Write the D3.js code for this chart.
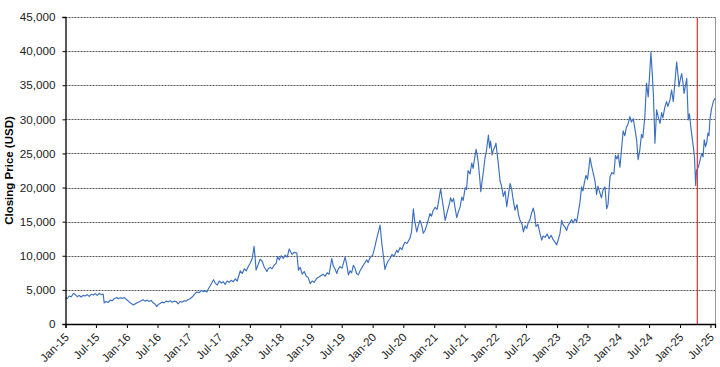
<!DOCTYPE html>
<html><head><meta charset="utf-8">
<script src="https://cdn.jsdelivr.net/npm/d3@7"></script>
<style>body{margin:0;background:#fff}svg{display:block}text{font-family:"Liberation Sans",Arial,sans-serif}</style>
</head><body><svg id="c" width="720" height="367"></svg>
<script>
const dates2015=["2015-01-01","2015-01-11","2015-01-23","2015-02-04","2015-02-18","2015-02-28","2015-03-12","2015-03-23","2015-04-04","2015-04-16","2015-04-28","2015-05-10","2015-05-22","2015-06-03","2015-06-15","2015-06-27","2015-07-08","2015-07-20","2015-08-04","2015-08-13","2015-08-19","2015-08-31","2015-09-12","2015-09-24","2015-10-05","2015-10-17","2015-11-02","2015-11-10","2015-11-22","2015-12-04","2015-12-16","2015-12-28"];
const values2015=[3900,3700,4100,4000,4500,4300,4000,4200,3950,4200,4100,4300,4050,4350,4250,4450,4200,4500,4300,4400,3100,3300,3150,3500,3400,3700,3900,3700,3850,3750,3900,3600];
const dates2016=["2016-01-08","2016-01-20","2016-02-09","2016-02-19","2016-03-02","2016-03-14","2016-03-26","2016-04-06","2016-04-18","2016-04-30","2016-05-12","2016-05-24","2016-06-05","2016-06-17","2016-06-27","2016-07-05","2016-07-16","2016-07-28","2016-08-09","2016-08-21","2016-09-02","2016-09-14","2016-09-26","2016-10-08","2016-10-20","2016-11-01","2016-11-12","2016-11-24","2016-12-06","2016-12-18","2016-12-30"];
const values2016=[3400,3100,2800,2950,3100,3250,3400,3550,3350,3500,3300,3450,3100,2900,2550,2850,3000,3200,3100,3350,3250,3400,3200,3350,3300,2950,3300,3200,3400,3350,3600];
const dates2017=["2017-01-11","2017-01-23","2017-02-04","2017-02-20","2017-03-06","2017-03-18","2017-03-30","2017-04-11","2017-04-21","2017-04-28","2017-05-10","2017-05-30","2017-06-09","2017-06-21","2017-07-03","2017-07-15","2017-07-27","2017-08-07","2017-08-19","2017-08-31","2017-09-12","2017-09-24","2017-10-06","2017-10-18","2017-11-05","2017-11-17","2017-11-29","2017-12-11","2017-12-24"];
const values2017=[3700,3950,4300,4700,4600,4900,4750,4850,4700,5100,5600,6500,6000,5700,6300,6000,6200,5800,6300,6100,6400,6200,6600,6300,7800,7400,8100,7800,8500];
const dates2018=["2018-01-03","2018-01-15","2018-01-26","2018-02-01","2018-02-07","2018-02-19","2018-03-03","2018-03-15","2018-03-27","2018-04-12","2018-04-20","2018-05-02","2018-05-13","2018-05-25","2018-06-06","2018-06-15","2018-06-24","2018-07-06","2018-07-18","2018-07-30","2018-08-11","2018-08-23","2018-08-29","2018-09-09","2018-09-21","2018-10-07","2018-10-17","2018-10-27","2018-11-08","2018-11-20","2018-12-02","2018-12-14","2018-12-26"];
const values2018=[8900,9600,11400,9800,7900,8700,9500,9200,8400,7700,8100,8300,8100,8600,8900,9900,9400,10000,9600,10100,9800,11000,10700,10200,10500,10400,7900,8300,7300,7700,7000,6800,5900];
const dates2019=["2019-01-06","2019-01-18","2019-02-03","2019-02-16","2019-02-28","2019-03-12","2019-03-24","2019-04-05","2019-04-17","2019-05-03","2019-05-11","2019-05-23","2019-06-02","2019-06-09","2019-06-21","2019-07-03","2019-07-21","2019-07-30","2019-08-10","2019-08-20","2019-08-29","2019-09-08","2019-09-18","2019-09-27","2019-10-08","2019-10-18","2019-10-30","2019-11-11","2019-11-27","2019-12-05","2019-12-16"];
const values2019=[6300,6100,6700,6900,7100,7300,7000,7500,7300,9600,8600,8000,7400,8000,8400,8200,9800,8800,7200,7800,7500,8600,8200,7400,7200,7800,8300,8800,9400,9000,9700];
const dates2020=["2020-01-01","2020-01-09","2020-01-25","2020-02-02","2020-02-14","2020-02-24","2020-03-02","2020-03-14","2020-03-23","2020-04-01","2020-04-13","2020-04-25","2020-05-07","2020-05-23","2020-05-31","2020-06-12","2020-06-23","2020-07-01","2020-07-11","2020-07-23","2020-08-10","2020-08-19","2020-08-30","2020-09-06","2020-09-19","2020-09-26","2020-10-08","2020-10-18","2020-10-28","2020-11-07","2020-11-19","2020-12-07","2020-12-16","2020-12-25"];
const values2020=[10100,10800,12500,13300,14500,11900,10500,8000,8700,9200,9600,10200,9900,10800,10500,11200,10900,11500,12000,11800,12600,13500,16900,15200,13500,14200,15200,14500,13300,13700,14600,16200,15800,16600];
const dates2021=["2021-01-06","2021-01-18","2021-01-27","2021-02-08","2021-02-17","2021-02-26","2021-03-07","2021-03-19","2021-03-31","2021-04-08","2021-04-17","2021-04-26","2021-05-05","2021-05-15","2021-05-23","2021-06-04","2021-06-14","2021-06-22","2021-07-04","2021-07-12","2021-07-21","2021-08-02","2021-08-12","2021-08-20","2021-08-29","2021-09-07","2021-09-13","2021-09-20","2021-09-28","2021-10-05","2021-10-12","2021-10-21","2021-10-30","2021-11-08","2021-11-19","2021-11-26","2021-12-02","2021-12-11","2021-12-18","2021-12-28"];
const values2021=[17100,16800,18000,19800,18300,16800,15200,16400,17500,18500,17900,18400,17000,15600,16300,17200,18600,18100,20000,19700,22500,22000,23600,22800,24300,25600,24800,23600,21500,19400,20800,22500,24400,25500,27700,25800,26800,24800,25500,26000];
const dates2022=["2022-01-03","2022-01-09","2022-01-17","2022-01-27","2022-02-05","2022-02-16","2022-02-26","2022-03-08","2022-03-16","2022-03-28","2022-04-06","2022-04-14","2022-04-26","2022-05-08","2022-05-17","2022-05-26","2022-06-07","2022-06-15","2022-06-25","2022-07-05","2022-07-13","2022-07-24","2022-08-02","2022-08-13","2022-08-20","2022-08-29","2022-09-10","2022-09-22","2022-10-02","2022-10-10","2022-10-22","2022-11-03","2022-11-15","2022-11-27","2022-12-08","2022-12-20","2022-12-30"];
const values2022=[26500,25200,23500,21000,20200,18700,19500,17200,18600,20600,19800,18400,16700,17500,16000,15200,14600,13500,14400,14000,14800,15300,16200,17000,16200,14300,14600,13200,12300,12900,12700,13200,12500,13000,12400,12000,11600];
const dates2023=["2023-01-07","2023-01-18","2023-01-29","2023-02-05","2023-02-17","2023-02-27","2023-03-07","2023-03-19","2023-03-29","2023-04-06","2023-04-18","2023-04-28","2023-05-05","2023-05-17","2023-05-27","2023-06-04","2023-06-13","2023-06-22","2023-07-01","2023-07-10","2023-07-16","2023-07-25","2023-08-04","2023-08-14","2023-08-24","2023-09-01","2023-09-13","2023-09-22","2023-10-01","2023-10-13","2023-10-23","2023-10-31","2023-11-12","2023-11-23","2023-12-05","2023-12-14","2023-12-23","2023-12-31"];
const values2023=[12300,13200,15200,14600,14200,13700,14400,14900,15300,14800,15400,15000,16000,17800,20100,19500,20800,21800,21200,23000,24400,23200,22100,21000,19000,20200,19200,18500,19600,20100,16900,17500,21600,22200,22000,24700,24200,24800];
const dates2024=["2024-01-10","2024-01-19","2024-01-29","2024-02-08","2024-02-17","2024-02-28","2024-03-09","2024-03-18","2024-03-29","2024-04-08","2024-04-18","2024-04-27","2024-05-07","2024-05-17","2024-05-25","2024-06-06","2024-06-16","2024-06-26","2024-07-03","2024-07-12","2024-07-20","2024-07-27","2024-08-05","2024-08-15","2024-08-23","2024-09-04","2024-09-14","2024-09-21","2024-10-03","2024-10-13","2024-10-21","2024-11-02","2024-11-12","2024-11-22","2024-12-02","2024-12-12","2024-12-20","2024-12-26"];
const values2024=[23000,25500,28300,27600,28800,29400,30400,29600,30100,28600,27000,24100,25500,27800,27300,30400,35300,33300,36000,39800,36700,33500,26500,31400,30500,29400,31000,30200,31800,32600,31900,32800,34300,32600,35500,38400,36500,34800];
const dates2025=["2025-01-04","2025-01-11","2025-01-19","2025-01-25","2025-02-03","2025-02-10","2025-02-19","2025-02-26","2025-03-07","2025-03-13","2025-03-21","2025-03-28","2025-04-04","2025-04-09","2025-04-20","2025-04-30","2025-05-10","2025-05-18","2025-05-25","2025-06-02","2025-06-09","2025-06-16","2025-06-22","2025-06-28","2025-07-07","2025-07-18","2025-07-28"];
const values2025=[36000,36700,35200,33800,35000,36000,29900,30800,28700,27500,26000,24500,20300,22500,23000,24000,25000,24500,27000,26000,26600,28000,27600,30000,31500,32600,33100];

const yTicks=[0,5000,10000,15000,20000,25000,30000,35000,40000,45000];
const xTickLabels=["Jan-15","Jul-15","Jan-16","Jul-16","Jan-17","Jul-17","Jan-18","Jul-18","Jan-19","Jul-19","Jan-20","Jul-20","Jan-21","Jul-21","Jan-22","Jul-22","Jan-23","Jul-23","Jan-24","Jul-24","Jan-25","Jul-25"];
const markerDate="2025-04-14";
const yTitle="Closing Price (USD)";

const allDates=[].concat(dates2015,dates2016,dates2017,dates2018,dates2019,dates2020,dates2021,dates2022,dates2023,dates2024,dates2025);
const allValues=[].concat(values2015,values2016,values2017,values2018,values2019,values2020,values2021,values2022,values2023,values2024,values2025);
const parse=d3.utcParse("%Y-%m-%d");
const data=allDates.map((d,i)=>({date:parse(d),value:allValues[i]}));

const L=65.5,R=715,T=17,B=324;
const svg=d3.select("#c");
const x=d3.scaleUtc().domain([parse("2015-01-01"),parse("2025-07-28")]).range([L,R]);
const y=d3.scaleLinear().domain([0,45000]).range([B,T]);
const fmt=d3.format(",");

// gridlines
svg.append("g").selectAll("line").data(yTicks.filter(v=>v>0)).join("line")
  .attr("x1",L).attr("x2",R).attr("y1",d=>Math.round(y(d))+0.5).attr("y2",d=>Math.round(y(d))+0.5)
  .attr("stroke","#555").attr("stroke-width",1).attr("stroke-dasharray","2,1");
// right border
svg.append("line").attr("x1",R+0.5).attr("x2",R+0.5).attr("y1",T).attr("y2",B).attr("stroke","#999");

// line
svg.append("path").datum(data).attr("fill","none").attr("stroke","#3b6fbf").attr("stroke-width",1.15)
  .attr("stroke-linejoin","round")
  .attr("d",d3.line().x(d=>x(d.date)).y(d=>y(d.value)));

// red marker
const mx=x(parse(markerDate));
svg.append("line").attr("x1",mx).attr("x2",mx).attr("y1",T+1).attr("y2",B).attr("stroke","#f0302a").attr("stroke-width",1.2);

// axes
const xTickDates=xTickLabels.map(s=>{const m=s.startsWith("Jan")?0:6;return new Date(Date.UTC(2000+ +s.slice(4),m,1));});
const xa=svg.append("g").attr("transform",`translate(0,${B})`)
  .call(d3.axisBottom(x).tickValues(xTickDates).tickSize(4).tickFormat((d,i)=>xTickLabels[i]));
xa.select(".domain").attr("stroke","#000").attr("stroke-width",1.3);
xa.selectAll(".tick line").attr("stroke","#000");
xa.selectAll(".tick text").attr("font-size","11.5px").attr("fill","#222").attr("text-anchor","end")
  .attr("transform","translate(1,11) rotate(-45)").attr("dy","0.35em").attr("y",0).attr("x",0);

const ya=svg.append("g").attr("transform",`translate(${L},0)`)
  .call(d3.axisLeft(y).tickValues(yTicks).tickSize(3).tickPadding(7).tickFormat(fmt));
ya.select(".domain").attr("stroke","#000").attr("stroke-width",1.3);
ya.selectAll(".tick line").attr("stroke","#000");
ya.selectAll(".tick text").attr("font-size","11.7px").attr("fill","#222");

svg.append("text").attr("transform",`translate(13,${(T+B)/2}) rotate(-90)`).attr("text-anchor","middle")
  .attr("font-size","11.5px").attr("font-weight","bold").attr("fill","#000").text(yTitle);
</script></body></html>
